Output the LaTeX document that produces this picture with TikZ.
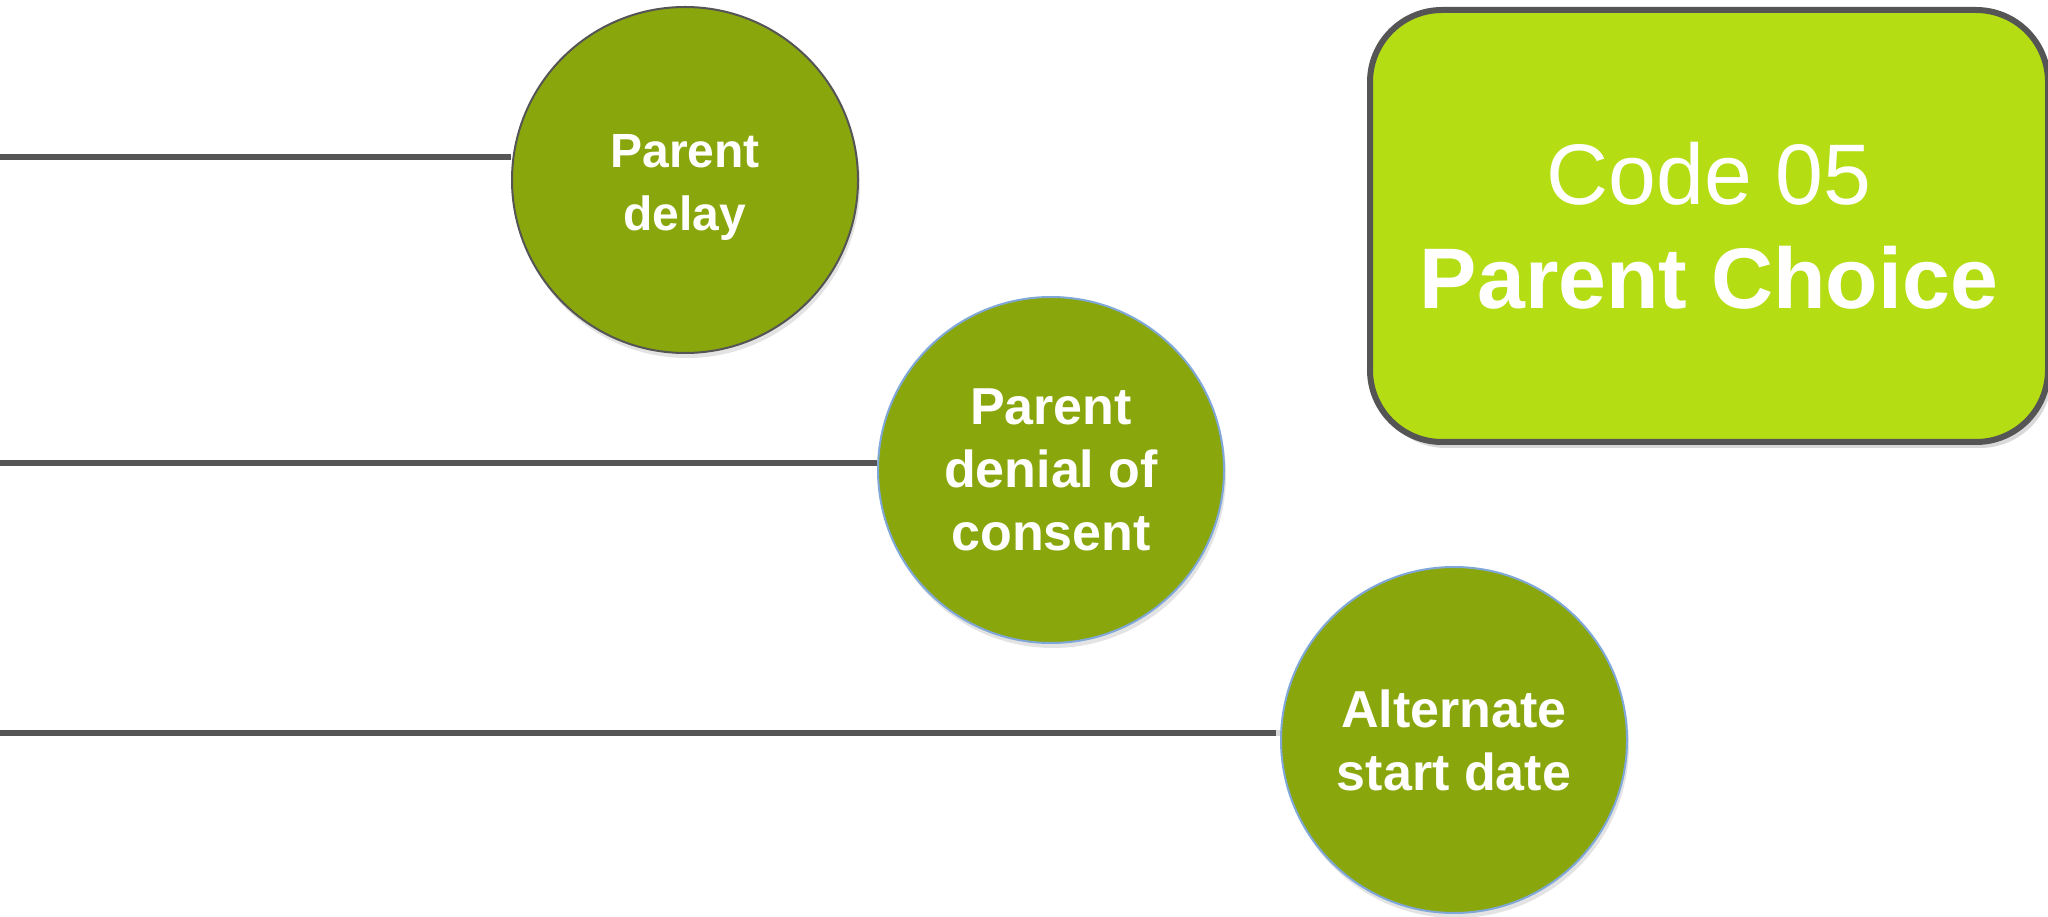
\documentclass[tikz,border=0pt]{standalone}
\usepackage{fontspec}
\setmainfont{Liberation Sans}
\usetikzlibrary{shadows}
\definecolor{circgreen}{HTML}{8AA60D}
\definecolor{boxlime}{HTML}{B5DD13}
\definecolor{linegray}{HTML}{555555}
\definecolor{edgeblue}{HTML}{7FA8D8}
\begin{document}
\begin{tikzpicture}[x=0.5pt,y=0.5pt,
  bubble/.style={circle, fill=circgreen, draw=edgeblue, line width=1pt,
    minimum size=173pt, inner sep=0pt, align=center, text=white,
    font=\bfseries\fontsize{26}{31.5}\selectfont,
    drop shadow={opacity=0.22, shadow xshift=1pt, shadow yshift=-2.5pt}},
  bubtext/.style={align=center, text=white, inner sep=0pt,
    font=\bfseries\fontsize{24}{31.5}\selectfont},
  connector/.style={draw=linegray, line width=3pt},
  connshadow/.style={draw=black!25, line width=3pt, opacity=0.6},
  codebox/.style={rectangle, rounded corners=36pt, fill=boxlime, draw=linegray,
    line width=3pt, minimum width=339pt, minimum height=216pt, align=center,
    text=white, font=\fontsize{43}{52}\selectfont,
    drop shadow={opacity=0.3, shadow xshift=2pt, shadow yshift=-3pt}}]
\useasboundingbox (0,0) rectangle (2048,916);
% nodes
\node[bubble, draw=linegray] (c1) at (685,736) {};
\node[bubtext] (t1) at ([yshift=-3.5pt]c1.center) {Parent\\delay};
\node[bubble] (c2) at (1051,446) {Parent\\denial of\\consent};
\node[bubble] (c3) at (1454,176) {Alternate\\start date};
\node[codebox] (box) at (1709,690)
  {Code 05\\\textbf{Parent Choice}};
% connectors
\coordinate (l1) at (0,759);
\coordinate (l2) at (0,453);
\coordinate (l3) at (0,183);
\begin{scope}[yshift=-2.5pt]
\draw[connshadow] (l1) -- (l1 -| c1.west);
\draw[connshadow] (l2) -- (l2 -| c2.west);
\draw[connshadow] (l3) -- (l3 -| c3.west);
\end{scope}
\draw[connector] (l1) -- (l1 -| c1.west);
\draw[connector] (l2) -- (l2 -| c2.west);
\draw[connector, shorten >=2pt] (l3) -- (l3 -| c3.west);
\end{tikzpicture}
\end{document}
